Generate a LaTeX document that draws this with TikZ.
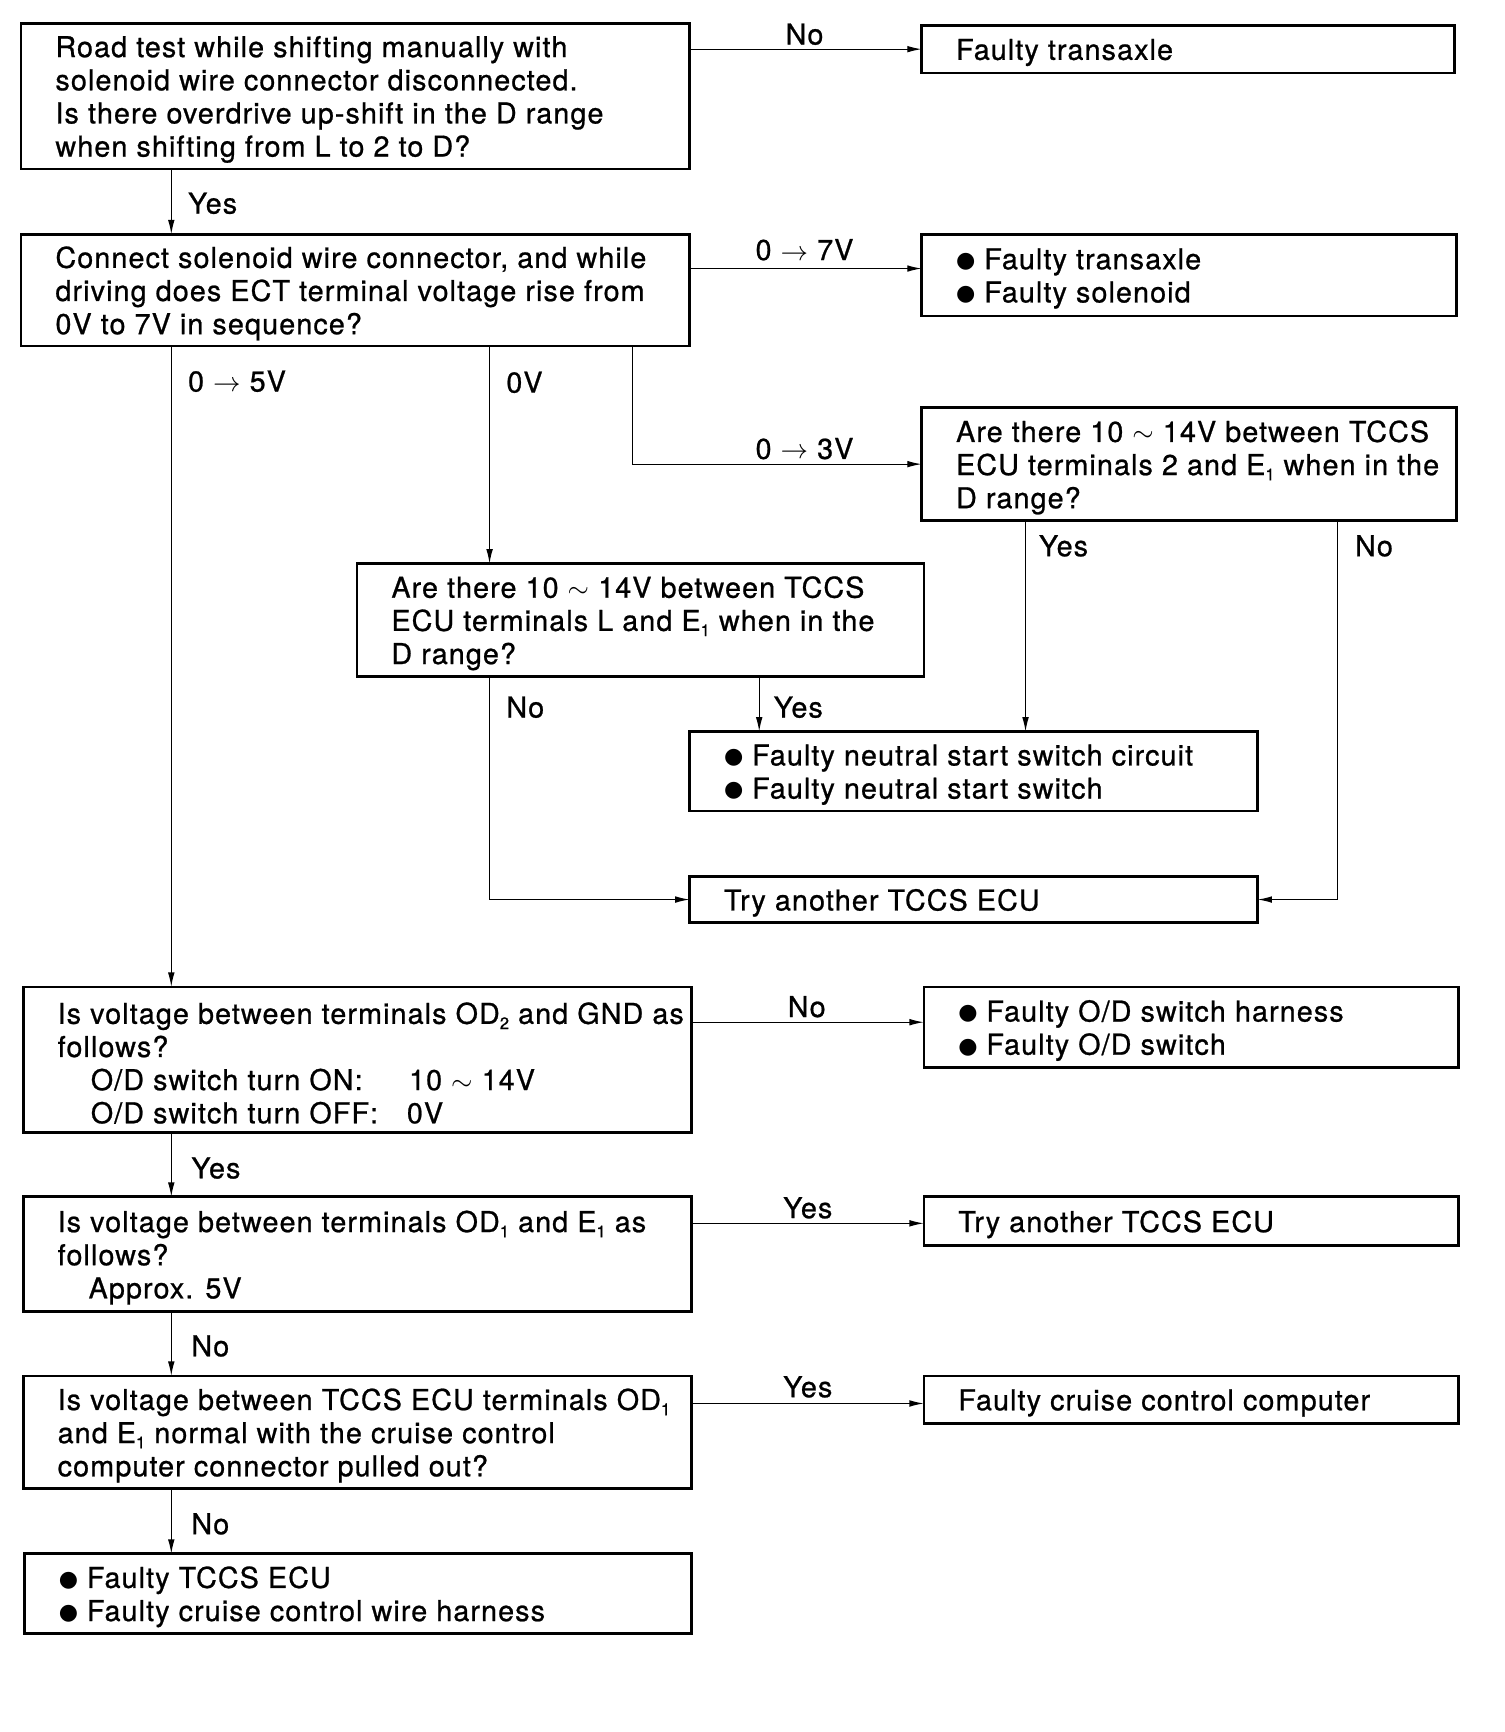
\documentclass[tikz,border=0pt]{standalone}
\usepackage{fontspec}
\setmainfont{TeX Gyre Heros}[LetterSpace=3.8, FakeBold=0.8]
\newfontfamily\dejavu{DejaVu Sans}
\usetikzlibrary{arrows.meta,calc}
\newcommand\subx[1]{\raisebox{-0.35ex}{\fontsize{15}{15}\selectfont #1}}
\newcommand\bul{\raisebox{1.5pt}{\dejavu\fontsize{20}{30}\selectfont ●}\hspace{8pt}}
\newcommand\bx[6]{\node[box, minimum width=#4pt, minimum height=#5pt] (#1) at (#2,#3) {};
  \node[txt] (#1t) at ($(#1.west)+(31,3)$) {#6};}
\begin{document}
\begin{tikzpicture}[x=1pt,y=-1pt,
  every node/.style={font=\fontsize{26}{30}\selectfont},
  box/.style={draw, line width=2.4pt, anchor=north west, inner sep=0pt, outer sep=0pt},
  txt/.style={anchor=west, align=left, inner sep=0pt},
  arr/.style={line width=1.1pt, -{Latex[length=13pt,width=6pt]}},
  labc/.style={inner sep=0pt},
  labw/.style={inner sep=0pt, anchor=west}]
\useasboundingbox (0,0) rectangle (1361,1567.3);

% boxes
\bx{A}{19}{21}{605}{132}{Road test while shifting manually with\\ solenoid wire connector disconnected.\\ Is there overdrive up-shift in the D range\\ when shifting from L to 2 to D?}
\bx{B}{834}{23}{482}{43}{Faulty transaxle}
\bx{C}{19}{212}{605}{101}{Connect solenoid wire connector, and while\\ driving does ECT terminal voltage rise from\\ 0V to 7V in sequence?}
\bx{D}{834}{212}{484}{74}{\bul Faulty transaxle\\ \bul Faulty solenoid}
\bx{E}{834}{369}{484}{102}{Are there 10 $\sim$ 14V between TCCS\\ ECU terminals 2 and E\subx{1} when in the\\ D range?}
\bx{F}{323}{510}{513}{102}{Are there 10 $\sim$ 14V between TCCS\\ ECU terminals L and E\subx{1} when in the\\ D range?}
\bx{G}{624}{662}{514}{72}{\bul Faulty neutral start switch circuit\\ \bul Faulty neutral start switch}
\bx{I}{624}{793}{514}{42}{Try another TCCS ECU}
\bx{H}{21}{893}{605}{132}{Is voltage between terminals OD\subx{2} and GND as\\ follows?\\ \hspace*{30pt}\makebox[288pt][l]{O/D switch turn ON:}10 $\sim$ 14V\\ \hspace*{30pt}\makebox[286pt][l]{O/D switch turn OFF:}0V}
\bx{J}{836}{893}{484}{73}{\bul Faulty O/D switch harness\\ \bul Faulty O/D switch}
\bx{K}{21}{1083}{605}{104}{Is voltage between terminals OD\subx{1} and E\subx{1} as\\ follows?\\ \hspace*{28pt}Approx. 5V}
\bx{L}{836}{1083}{484}{44}{Try another TCCS ECU}
\bx{M}{21}{1245}{605}{102}{Is voltage between TCCS ECU terminals OD\subx{1}\\ and E\subx{1} normal with the cruise control\\ computer connector pulled out?}
\bx{N}{836}{1245}{484}{43}{Faulty cruise control computer}
\bx{O}{22}{1406}{604}{72}{\bul Faulty TCCS ECU\\ \bul Faulty cruise control wire harness}

% connectors
\draw[arr] (A.east |- B.west) -- (B.west);
\draw[arr] ($(A.south west)+(136,0)$) coordinate (a1) -- (a1 |- C.north);
\draw[arr] ($(C.north east)+(0,31)$) coordinate (c1) -- (c1 -| D.west);
\draw[arr] ($(C.south west)+(136,0)$) coordinate (c2) -- (c2 |- H.north);
\draw[arr] ($(C.south west)+(424,0)$) coordinate (c3) -- (c3 |- F.north);
\draw[arr] ($(C.south west)+(553,0)$) coordinate (c4) |- (E.west);
\draw[arr] ($(E.south west)+(94,0)$) coordinate (e1) -- (e1 |- G.north);
\draw[arr] ($(E.south west)+(376,0)$) coordinate (e2) |- (I.east);
\draw[arr] ($(F.south west)+(120,0)$) coordinate (f1) |- (I.west);
\draw[arr] ($(F.south west)+(364,0)$) coordinate (f2) -- (f2 |- G.north);
\draw[arr] ($(H.north east)+(0,32)$) coordinate (h1) -- (h1 -| J.west);
\draw[arr] ($(H.south west)+(134,0)$) coordinate (h2) -- (h2 |- K.north);
\draw[arr] ($(K.north east)+(0,24)$) coordinate (k1) -- (k1 -| L.west);
\draw[arr] ($(K.south west)+(134,0)$) coordinate (k2) -- (k2 |- M.north);
\draw[arr] ($(M.north east)+(0,25)$) coordinate (m1) -- (m1 -| N.west);
\draw[arr] ($(M.south west)+(134,0)$) coordinate (m2) -- (m2 |- O.north);

% labels
\node[labc] (l1) at (728,31) {No};
\node[labw] (l2) at (170,184) {Yes};
\node[labc] (l3) at (728,226) {0 $\rightarrow$ 7V};
\node[labw] (l4) at (170,345) {0 $\rightarrow$ 5V};
\node[labw] (l5) at (458,346) {0V};
\node[labc] (l6) at (728,406) {0 $\rightarrow$ 3V};
\node[labw] (l7) at (940,494) {Yes};
\node[labw] (l8) at (1226,494) {No};
\node[labw] (l9) at (458,640) {No};
\node[labw] (l10) at (700,640) {Yes};
\node[labc] (l11) at (730,911) {No};
\node[labw] (l12) at (173,1057) {Yes};
\node[labc] (l13) at (731,1093) {Yes};
\node[labw] (l14) at (173,1218) {No};
\node[labc] (l15) at (731,1255) {Yes};
\node[labw] (l16) at (173,1379) {No};
\end{tikzpicture}
\end{document}
